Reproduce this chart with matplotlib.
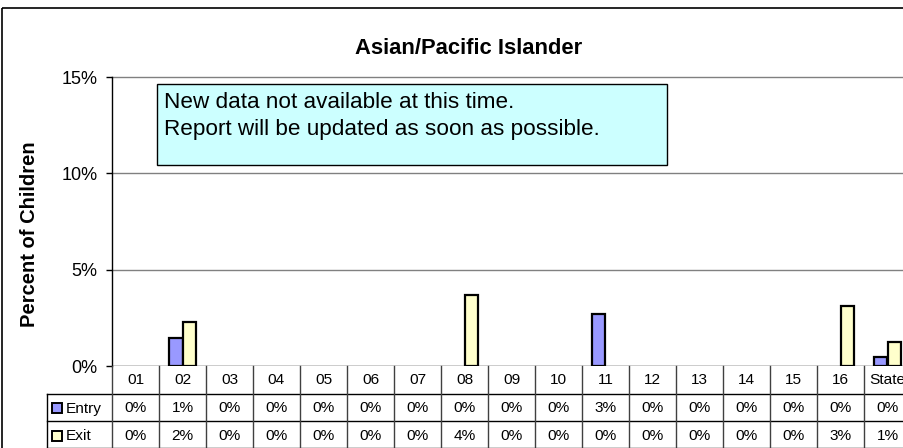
import matplotlib
matplotlib.use("Agg")
import matplotlib.pyplot as plt
from matplotlib.patches import Rectangle
import matplotlib.transforms as mtransforms

plt.rcParams['font.family'] = ['Liberation Sans', 'DejaVu Sans']

categories = ["01", "02", "03", "04", "05", "06", "07", "08", "09", "10",
              "11", "12", "13", "14", "15", "16", "State"]
entry = [0, 1.45, 0, 0, 0, 0, 0, 0, 0, 0, 2.7, 0, 0, 0, 0, 0, 0.45]
exit_ = [0, 2.28, 0, 0, 0, 0, 0, 3.69, 0, 0, 0, 0, 0, 0, 0, 3.12, 1.26]
series_names = ["Entry", "Exit"]
yticks = [0, 5, 10, 15]
title = "Asian/Pacific Islander"
ylabel = "Percent of Children"
note = "New data not available at this time.\nReport will be updated as soon as possible."

entry_color = "#9999FF"
exit_color = "#FFFFCC"

W, H = 904, 448
fig = plt.figure(figsize=(W / 100, H / 100), dpi=100)

def fx(px):
    return px / W

def fy(py):
    return 1 - py / H

ax = fig.add_axes([fx(112), fy(366), fx(W - 112), (366 - 77) / H])
col_w_px = 47.0
ax.set_xlim(-0.5, -0.5 + (W - 112) / col_w_px)
ax.set_ylim(0, 15)

ov = fig.add_axes([0, 0, 1, 1], zorder=5)
ov.set_xlim(0, W)
ov.set_ylim(H, 0)
ov.axis("off")
ov.patch.set_alpha(0)

ov.add_patch(Rectangle((2, 8), W + 20, H + 20, fill=False, edgecolor="black", lw=1.2))

for t in yticks[1:]:
    ax.axhline(t, color="#808080", lw=1, zorder=0, clip_on=False)

x = list(range(len(categories)))
bw = 0.28
ax.bar([i - bw / 2 for i in x], entry, width=bw, color=entry_color,
       edgecolor=["black" if v > 0 else "none" for v in entry], lw=1.6, zorder=3)
ax.bar([i + bw / 2 for i in x], exit_, width=bw, color=exit_color,
       edgecolor=["black" if v > 0 else "none" for v in exit_], lw=1.6, zorder=3)

for s in ["top", "right", "bottom"]:
    ax.spines[s].set_visible(False)
ax.spines["left"].set_color("black")
ax.spines["left"].set_linewidth(1)
ax.set_yticks(yticks)
ax.set_yticklabels([f"{t}%" for t in yticks], fontsize=13)
ax.tick_params(axis="y", length=4, width=1, pad=6.5, direction="out")
ax.set_xticks([])
ax.set_facecolor("white")
ax.axhline(0, color="black", lw=1, zorder=4)

fig.text(fx(582), fy(49), title, ha="right", va="center", fontsize=15.8, fontweight="bold")
fig.text(fx(30), fy(234), ylabel, ha="center", va="center", rotation=90, fontsize=14.5, fontweight="bold")

ov.add_patch(Rectangle((157, 84), 510, 81, facecolor="#CCFFFF", edgecolor="black", lw=1, zorder=6))
for k, line in enumerate(note.split("\n")):
    ov.text(164, 108 + 27 * k, line, ha="left", va="baseline", fontsize=16.2, zorder=7)

blend = mtransforms.blended_transform_factory(ax.transData, ov.transData)
rows_y = [366, 394, 421, 448]
n = len(categories)
edges = [i - 0.5 for i in range(n + 1)]
for yy in rows_y[1:]:
    ov.plot([47, W], [yy, yy], color="black", lw=1, clip_on=False)
for e in edges:
    ov.plot([e, e], [366, H], color="#404040", lw=1, transform=blend, clip_on=False)
ov.plot([47, 47], [394, H], color="black", lw=1, clip_on=False)
fs = 11.1
for i, c in enumerate(categories):
    ov.text(i, 380.5, c, ha="center", va="center", fontsize=fs, transform=blend)
    ov.text(i, 408.5, f"{round(entry[i]):.0f}%", ha="center", va="center", fontsize=fs, transform=blend)
    ov.text(i, 436, f"{round(exit_[i]):.0f}%", ha="center", va="center", fontsize=fs, transform=blend)
for name, col, yc in [(series_names[0], entry_color, 408.5), (series_names[1], exit_color, 436)]:
    ov.add_patch(Rectangle((52, yc - 5), 10, 10, facecolor=col, edgecolor="black", lw=1.4))
    ov.text(66, yc, name, ha="left", va="center", fontsize=fs)

fig.savefig("out.png", dpi=100)
